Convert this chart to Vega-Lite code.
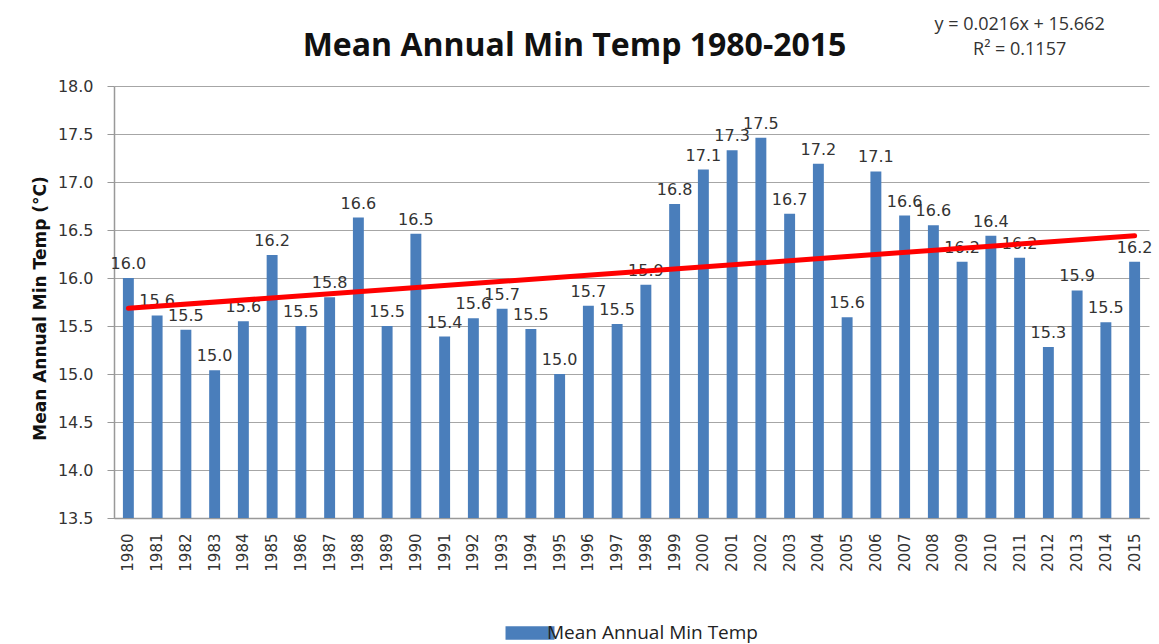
{
  "$schema": "https://vega.github.io/schema/vega-lite/v6.json",
  "autosize": {"type": "none"},
  "width": 1035,
  "height": 432,
  "padding": {"left": 114, "top": 86, "right": 10, "bottom": 126},
  "background": "white",
  "title": {
    "text": "Mean Annual Min Temp 1980-2015",
    "font": "Open Sans",
    "fontSize": 32,
    "fontWeight": "bold",
    "color": "#111111",
    "anchor": "middle",
    "baseline": "alphabetic",
    "dx": -57,
    "dy": 72,
    "offset": 0
  },
  "config": {
    "view": {"stroke": null},
    "axis": {"labelFont": "DejaVu Sans", "labelColor": "#333333", "titleColor": "#111111"}
  },
  "datasets": {
    "temps": [
      {"year": "1980", "temp": 16.00},
      {"year": "1981", "temp": 15.61},
      {"year": "1982", "temp": 15.46},
      {"year": "1983", "temp": 15.04},
      {"year": "1984", "temp": 15.55},
      {"year": "1985", "temp": 16.24},
      {"year": "1986", "temp": 15.50},
      {"year": "1987", "temp": 15.80},
      {"year": "1988", "temp": 16.63},
      {"year": "1989", "temp": 15.50},
      {"year": "1990", "temp": 16.46},
      {"year": "1991", "temp": 15.39},
      {"year": "1992", "temp": 15.58},
      {"year": "1993", "temp": 15.68},
      {"year": "1994", "temp": 15.47},
      {"year": "1995", "temp": 15.00},
      {"year": "1996", "temp": 15.71},
      {"year": "1997", "temp": 15.52},
      {"year": "1998", "temp": 15.93},
      {"year": "1999", "temp": 16.77},
      {"year": "2000", "temp": 17.13},
      {"year": "2001", "temp": 17.33},
      {"year": "2002", "temp": 17.46},
      {"year": "2003", "temp": 16.67},
      {"year": "2004", "temp": 17.19},
      {"year": "2005", "temp": 15.59},
      {"year": "2006", "temp": 17.11},
      {"year": "2007", "temp": 16.65},
      {"year": "2008", "temp": 16.55},
      {"year": "2009", "temp": 16.17},
      {"year": "2010", "temp": 16.44},
      {"year": "2011", "temp": 16.21},
      {"year": "2012", "temp": 15.28},
      {"year": "2013", "temp": 15.87},
      {"year": "2014", "temp": 15.54},
      {"year": "2015", "temp": 16.17}
    ],
    "trend": [
      {"year": "1980", "fit": 15.684},
      {"year": "2015", "fit": 16.440}
    ],
    "eq": [
      {"year": "2011", "pos": 18.64, "label": "y = 0.0216x + 15.662"},
      {"year": "2011", "pos": 18.38, "label": "R² = 0.1157"}
    ]
  },
  "encoding": {
    "x": {
      "field": "year",
      "type": "ordinal",
      "scale": {"paddingInner": 0.62, "paddingOuter": 0.31},
      "axis": {
        "title": null,
        "labelAngle": -90,
        "labelFontSize": 15,
        "labelPadding": 15,
        "ticks": false,
        "domainColor": "#999999",
        "domainWidth": 1.5,
        "grid": false
      }
    }
  },
  "layer": [
    {
      "data": {"name": "temps"},
      "mark": {"type": "bar", "color": "#4a7ebb", "clip": true},
      "encoding": {
        "y": {
          "field": "temp",
          "type": "quantitative",
          "scale": {"domain": [13.5, 18.0], "nice": false, "zero": false},
          "axis": {
            "title": "Mean Annual Min Temp (°C)",
            "titleFont": "DejaVu Sans",
            "titleFontSize": 17,
            "titleFontWeight": "bold",
            "titlePadding": 8,
            "titleY": 222,
            "values": [13.5, 14, 14.5, 15, 15.5, 16, 16.5, 17, 17.5, 18],
            "format": ".1f",
            "labelFontSize": 16,
            "labelPadding": 14,
            "tickSize": 7,
            "tickColor": "#999999",
            "domainColor": "#999999",
            "domainWidth": 1.5,
            "gridColor": "#a6a6a6",
            "gridWidth": 1.2
          }
        },
        "color": {
          "datum": "Mean Annual Min Temp",
          "type": "nominal",
          "scale": {"range": ["#4a7ebb"]},
          "legend": {
            "title": null,
            "orient": "none",
            "legendX": 402,
            "legendY": 533,
            "symbolType": "M-1.8,-0.5H1.8V0.5H-1.8Z",
            "symbolSize": 740,
            "symbolStrokeWidth": 0,
            "labelFont": "Open Sans",
            "labelFontSize": 19,
            "labelColor": "#222222",
            "labelOffset": 3,
            "labelLimit": 0
          }
        }
      }
    },
    {
      "data": {"name": "temps"},
      "mark": {"type": "text", "baseline": "bottom", "dy": -6, "font": "DejaVu Sans", "fontSize": 16, "color": "#333333"},
      "encoding": {
        "y": {"field": "temp", "type": "quantitative"},
        "text": {"field": "temp", "type": "quantitative", "format": ".1f"}
      }
    },
    {
      "data": {"name": "trend"},
      "mark": {"type": "line", "color": "#ff0000", "strokeWidth": 5, "strokeCap": "round"},
      "encoding": {
        "y": {"field": "fit", "type": "quantitative"}
      }
    },
    {
      "data": {"name": "eq"},
      "mark": {"type": "text", "font": "Open Sans", "fontSize": 18, "color": "#333333", "baseline": "middle"},
      "encoding": {
        "y": {"field": "pos", "type": "quantitative"},
        "text": {"field": "label", "type": "nominal"}
      }
    }
  ]
}
